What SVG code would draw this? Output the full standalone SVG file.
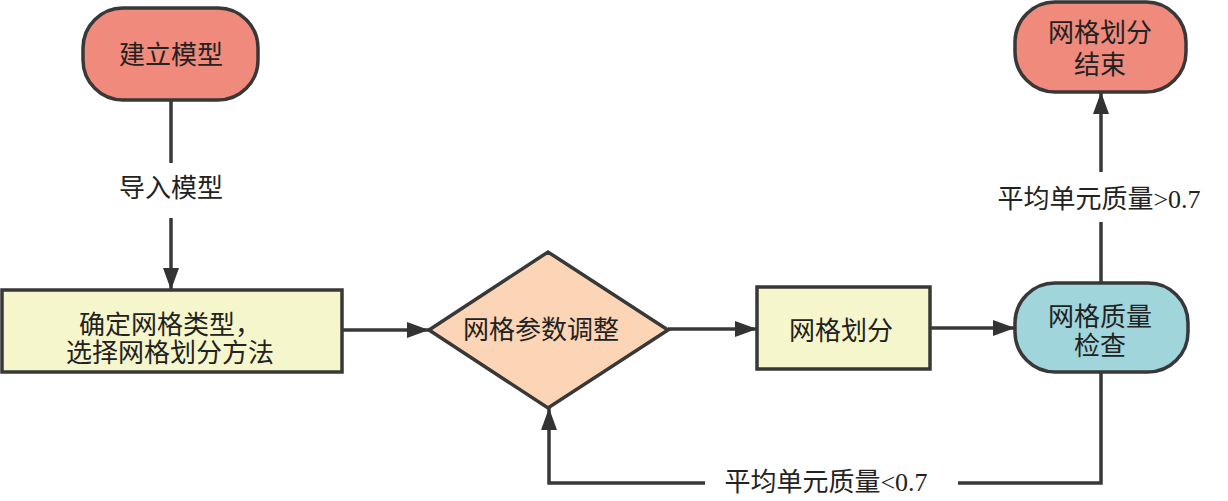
<svg xmlns="http://www.w3.org/2000/svg" width="1228" height="501" viewBox="0 0 1228 501">
<defs>
<marker id="arr" markerUnits="userSpaceOnUse" markerWidth="24" markerHeight="18" refX="22" refY="8" orient="auto">
<path d="M0,0 L22,8 L0,16 z" fill="#333"/>
</marker>
<style>
.node{stroke:#383838;stroke-width:3.5}
.red{fill:#ef8a7c}
.yel{fill:#f6f6cc}
.peach{fill:#fcd5b6}
.cyan{fill:#9fd5db}
.edge{fill:none;stroke:#383838;stroke-width:3.5}
text{font-family:"Liberation Serif","Noto Sans CJK SC",serif;font-size:26px;fill:#222;text-anchor:middle;dominant-baseline:central}
</style>
</defs>
<rect width="1228" height="501" fill="#ffffff"/>
<g id="connectors">
<path class="edge" d="M171,100 V163"/>
<path class="edge" d="M171,218 V290" marker-end="url(#arr)"/>
<text x="171" y="188">导入模型</text>
<path class="edge" d="M342,330 H429" marker-end="url(#arr)"/>
<path class="edge" d="M668,329 H757" marker-end="url(#arr)"/>
<path class="edge" d="M930,328 H1015" marker-end="url(#arr)"/>
<path class="edge" d="M1101,283 V222"/>
<path class="edge" d="M1101,172 V92" marker-end="url(#arr)"/>
<text x="1099" y="199">平均单元质量&gt;0.7</text>
<path class="edge" d="M1101,372 V483 H958"/>
<path class="edge" d="M705,483 H549 V408" marker-end="url(#arr)"/>
<text x="826" y="482">平均单元质量&lt;0.7</text>
</g>
<g id="n1">
<rect class="node red" x="83" y="8" width="175" height="92" rx="40"/>
<text x="171" y="55">建立模型</text>
</g>
<g id="n2">
<rect class="node yel" x="2" y="290" width="340" height="82"/>
<text x="170" y="325">确定网格类型，</text>
<text x="170" y="353">选择网格划分方法</text>
</g>
<g id="n3">
<polygon class="node peach" points="429,330 548,252 668,330 548,408"/>
<text x="541" y="330">网格参数调整</text>
</g>
<g id="n4">
<rect class="node yel" x="757" y="287" width="173" height="82"/>
<text x="841" y="331">网格划分</text>
</g>
<g id="n5">
<rect class="node cyan" x="1015" y="283" width="173" height="89" rx="40"/>
<text x="1100" y="317">网格质量</text>
<text x="1100" y="346">检查</text>
</g>
<g id="n6">
<rect class="node red" x="1015" y="2" width="171" height="90" rx="40"/>
<text x="1100" y="33">网格划分</text>
<text x="1100" y="65">结束</text>
</g>
</svg>
